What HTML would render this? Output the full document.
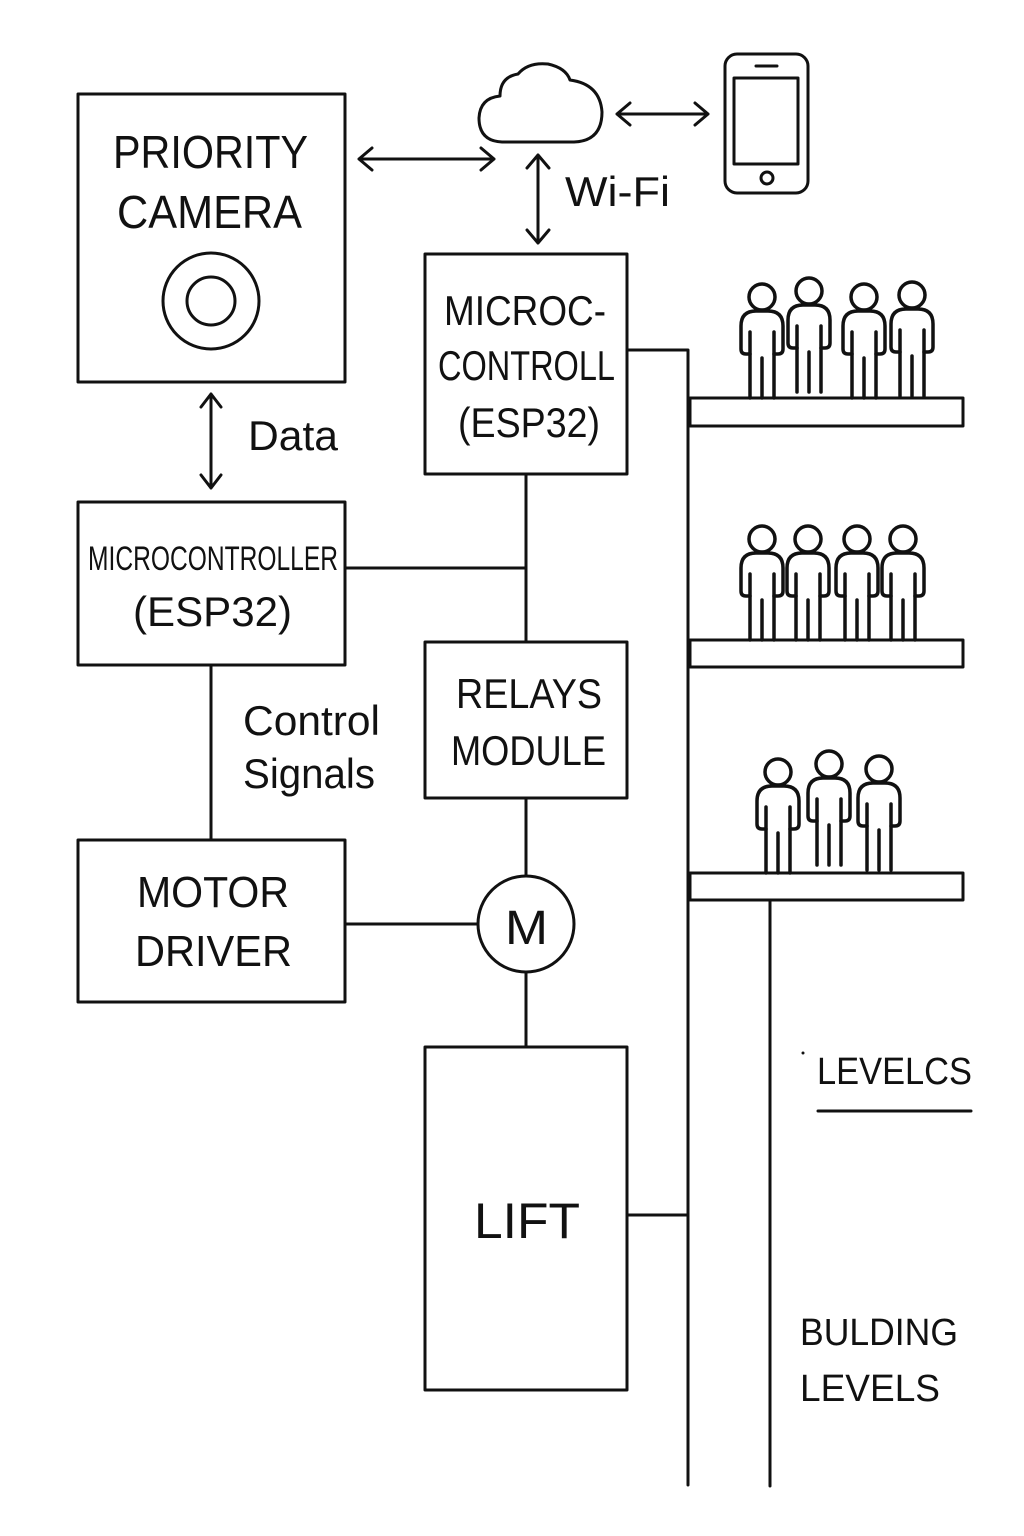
<!DOCTYPE html>
<html><head><meta charset="utf-8"><style>html,body{margin:0;padding:0;background:#fff}svg{display:block}</style></head>
<body>
<svg width="1024" height="1536" viewBox="0 0 1024 1536" xmlns="http://www.w3.org/2000/svg">
<defs>
<g id="p" fill="none" stroke="#111" stroke-width="3.5" stroke-linejoin="round" stroke-linecap="round">
<circle cx="0" cy="-101" r="13"/>
<path d="M-12,0 L-12,-44 L-16,-44 Q-21,-44 -21,-49 L-21,-72 Q-21,-87 -6,-87 L6,-87 Q21,-87 21,-72 L21,-49 Q21,-44 16,-44 L12,-44 L12,0"/>
<path d="M-12,-44 L-12,-66 M12,-44 L12,-66 M0,0 L0,-40"/>
</g>
</defs>
<g fill="none" stroke="#111" stroke-width="3" stroke-linecap="round" stroke-linejoin="round">
<!-- boxes -->
<rect x="78" y="94" width="267" height="288"/>
<circle cx="211" cy="301" r="48"/>
<circle cx="211" cy="301" r="24"/>
<rect x="425" y="254" width="202" height="220"/>
<rect x="78" y="502" width="267" height="163"/>
<rect x="425" y="642" width="202" height="156"/>
<rect x="78" y="840" width="267" height="162"/>
<circle cx="526" cy="924" r="48"/>
<rect x="425" y="1047" width="202" height="343"/>
<!-- cloud -->
<path d="M502,142 Q479,141 479,118 Q480,98 500,96 Q500,77 518,74 Q528,62 548,64 Q566,68 570,80 Q600,84 602,112 Q602,141 574,142 Z"/>
<!-- phone -->
<rect x="725" y="54" width="83" height="139" rx="12"/>
<rect x="734" y="78" width="64" height="86"/>
<line x1="756" y1="66" x2="777" y2="66"/>
<circle cx="767" cy="178" r="6"/>
<!-- arrows -->
<path d="M359,159 L494,159 M372,148 L359,159 L372,170 M481,148 L494,159 L481,170"/>
<path d="M617,114 L708,114 M630,103 L617,114 L630,125 M695,103 L708,114 L695,125"/>
<path d="M538,155 L538,243 M527,168 L538,155 L549,168 M527,230 L538,243 L549,230"/>
<path d="M211,394 L211,488 M201,407 L211,394 L221,407 M201,475 L211,488 L221,475"/>
<!-- connectors -->
<path d="M627,350 L688,350 L688,1485"/>
<path d="M526,474 L526,642"/>
<path d="M345,568 L526,568"/>
<path d="M211,665 L211,840"/>
<path d="M526,798 L526,876"/>
<path d="M345,924 L478,924"/>
<path d="M526,972 L526,1047"/>
<path d="M627,1215 L688,1215"/>
<path d="M770,900 L770,1486"/>
<!-- shelves -->
<rect x="690" y="398" width="273" height="28"/>
<rect x="690" y="640" width="273" height="27"/>
<rect x="690" y="873" width="273" height="27"/>
<line x1="818" y1="1111" x2="971" y2="1111"/>
</g>
<use href="#p" x="762" y="398"/>
<use href="#p" x="809" y="392"/>
<use href="#p" x="864" y="398"/>
<use href="#p" x="912" y="396"/>
<use href="#p" x="762" y="640"/>
<use href="#p" x="808" y="640"/>
<use href="#p" x="857" y="640"/>
<use href="#p" x="903" y="640"/>
<use href="#p" x="778" y="873"/>
<use href="#p" x="829" y="865"/>
<use href="#p" x="879" y="870"/>
<circle cx="803" cy="1053" r="1.5" fill="#111"/>
<g font-family="Liberation Sans, sans-serif" fill="#111" text-anchor="start">
<text x="113" y="168" font-size="46" textLength="195" lengthAdjust="spacingAndGlyphs">PRIORITY</text>
<text x="117" y="228" font-size="46" textLength="185" lengthAdjust="spacingAndGlyphs">CAMERA</text>
<text x="248" y="450" font-size="42" textLength="90" lengthAdjust="spacingAndGlyphs">Data</text>
<text x="565" y="206" font-size="42" textLength="105" lengthAdjust="spacingAndGlyphs">Wi-Fi</text>
<text x="444" y="325" font-size="42" textLength="162" lengthAdjust="spacingAndGlyphs">MICROC-</text>
<text x="438" y="380" font-size="42" textLength="177" lengthAdjust="spacingAndGlyphs">CONTROLL</text>
<text x="458" y="437" font-size="42" textLength="142" lengthAdjust="spacingAndGlyphs">(ESP32)</text>
<text x="88" y="570" font-size="34" textLength="250" lengthAdjust="spacingAndGlyphs">MICROCONTROLLER</text>
<text x="133" y="626" font-size="42" textLength="159" lengthAdjust="spacingAndGlyphs">(ESP32)</text>
<text x="243" y="735" font-size="42" textLength="137" lengthAdjust="spacingAndGlyphs">Control</text>
<text x="243" y="788" font-size="42" textLength="132" lengthAdjust="spacingAndGlyphs">Signals</text>
<text x="456" y="708" font-size="42" textLength="146" lengthAdjust="spacingAndGlyphs">RELAYS</text>
<text x="451" y="765" font-size="42" textLength="155" lengthAdjust="spacingAndGlyphs">MODULE</text>
<text x="137" y="907" font-size="44" textLength="152" lengthAdjust="spacingAndGlyphs">MOTOR</text>
<text x="135" y="966" font-size="44" textLength="157" lengthAdjust="spacingAndGlyphs">DRIVER</text>
<text x="505" y="944" font-size="48" textLength="43" lengthAdjust="spacingAndGlyphs">M</text>
<text x="474" y="1238" font-size="50" textLength="106" lengthAdjust="spacingAndGlyphs">LIFT</text>
<text x="817" y="1084" font-size="38" textLength="155" lengthAdjust="spacingAndGlyphs">LEVELCS</text>
<text x="800" y="1345" font-size="38" textLength="158" lengthAdjust="spacingAndGlyphs">BULDING</text>
<text x="800" y="1401" font-size="38" textLength="140" lengthAdjust="spacingAndGlyphs">LEVELS</text>
</g>
</svg>
</body></html>
